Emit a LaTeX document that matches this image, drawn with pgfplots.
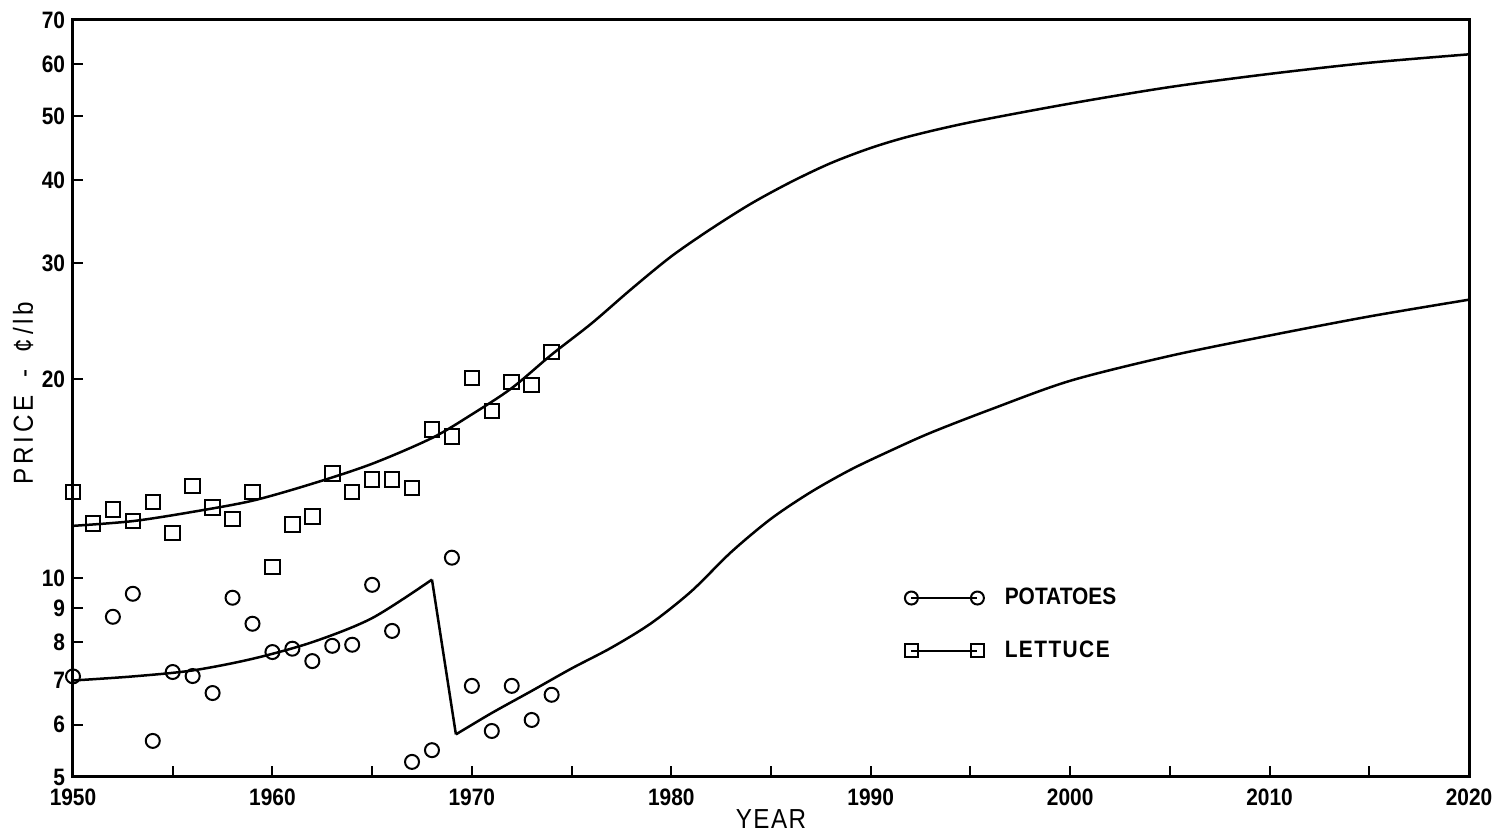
\documentclass[border=0pt]{standalone}
\usepackage{fontspec}
\setmainfont{Liberation Sans}[FakeStretch=0.88]
\usepackage{pgfplots}
\pgfplotsset{compat=1.18}
\begin{document}
\begin{tikzpicture}
\begin{axis}[
  name=ax,
  scale only axis, width=558.4pt, height=302.8pt,
  xmin=1950, xmax=2020, ymin=5, ymax=70, ymode=log,
  axis line style={line width=1.2pt},
  xtick={1950,1955,...,2020},
  xticklabels={1950,,1960,,1970,,1980,,1990,,2000,,2010,,2020},
  ytick={5,6,7,8,9,10,20,30,40,50,60,70},
  yticklabels={5,6,7,8,9,10,20,30,40,50,60,70},
  yminorticks=false, xminorticks=false,
  tick align=inside, xtick pos=left, ytick pos=left,
  major tick length=4.2pt,
  tick style={line width=0.8pt, black},
  tick label style={font=\fontsize{9.5}{10}\selectfont\bfseries},
  yticklabel style={inner sep=1pt, xshift=-2pt},
  xticklabel style={inner sep=1pt, yshift=-3.5pt},
  xlabel={\addfontfeatures{LetterSpace=5}YEAR},
  xlabel style={at={(axis description cs:0.5,-0.0555)}, anchor=center, font=\fontsize{11}{12}\selectfont},
  ylabel={\addfontfeatures{LetterSpace=14}PRICE\hspace{7pt}-\hspace{7pt}¢/lb},
  ylabel style={at={(axis description cs:-0.0358,0.507)}, anchor=center, font=\fontsize{11}{12}\selectfont},
  legend style={draw=none, fill=none, at={(0.5902,0.2015)}, anchor=west, row sep=9pt, font=\fontsize{9.5}{10}\selectfont\bfseries},
  legend cell align=left,
  legend image code/.code={\draw[#1] plot coordinates {(0pt,0pt) (26.4pt,0pt)}; \path (35pt,0pt);},
]
% lettuce observations
\addplot[only marks, mark=square, mark size=2.9pt, mark options={line width=0.8pt, black}, forget plot] coordinates {
(1950,13.5) (1951,12.1) (1952,12.7) (1953,12.2) (1954,13.05) (1955,11.7) (1956,13.8) (1957,12.8) (1958,12.3) (1959,13.5)
(1960,10.4) (1961,12.05) (1962,12.4) (1963,14.4) (1964,13.5) (1965,14.1) (1966,14.1) (1967,13.7) (1968,16.8) (1969,16.4)
(1970,20.1) (1971,17.9) (1972,19.8) (1973,19.6) (1974,22.0)};
% potato observations
\addplot[only marks, mark=o, mark size=2.8pt, mark options={line width=0.8pt, black}, forget plot] coordinates {
(1950,7.1) (1952,8.74) (1953,9.47) (1954,5.67) (1955,7.21) (1956,7.11) (1957,6.7) (1958,9.34) (1959,8.53)
(1960,7.73) (1961,7.82) (1962,7.49) (1963,7.9) (1964,7.93) (1965,9.77) (1966,8.32) (1967,5.27) (1968,5.49) (1969,10.74)
(1970,6.87) (1971,5.87) (1972,6.87) (1973,6.1) (1974,6.66)};
% lettuce curve
\addplot[black, line width=1pt, smooth, forget plot] coordinates {
(1950,12.0) (1953,12.2) (1956,12.6) (1959,13.1) (1962,13.9) (1965,14.9) (1968,16.3) (1970,17.7) (1972,19.4)
(1974,21.8) (1976,24.3) (1978,27.4) (1980,30.7) (1982,33.8) (1984,36.9) (1986,39.8) (1988,42.5) (1990,44.8)
(1992,46.7) (1995,49.0) (2000,52.3) (2005,55.4) (2010,58.0) (2015,60.3) (2020,62.1)};
% potato curve
\addplot[black, line width=1pt, smooth, forget plot] coordinates {
(1950,7.0) (1953,7.1) (1956,7.25) (1959,7.55) (1962,8.0) (1965,8.7) (1968,9.95)};
\addplot[black, line width=1pt, forget plot] coordinates {(1968,9.95) (1969.2,5.8)};
\addplot[black, line width=1pt, smooth, forget plot] coordinates {
(1969.2,5.8) (1971,6.25) (1973,6.75) (1975,7.3) (1977,7.85) (1979,8.55) (1981,9.55) (1983,10.95) (1985,12.3)
(1987,13.5) (1989,14.6) (1991,15.6) (1993,16.6) (1996,18.0) (2000,19.9) (2005,21.7) (2010,23.3) (2015,24.9) (2020,26.4)};
\addlegendimage{black, line width=0.7pt, mark=o, mark size=2.6pt, mark options={line width=0.8pt}}
\addlegendentry{POTATOES}
\addlegendimage{black, line width=0.7pt, mark=square, mark size=2.6pt, mark options={line width=0.8pt}}
\addlegendentry{\addfontfeatures{LetterSpace=6}LETTUCE}
\end{axis}
\pgfresetboundingbox
\path[use as bounding box] ([xshift=-29.2pt,yshift=-22.4pt]ax.south west) rectangle ([xshift=16pt,yshift=8pt]ax.north east);
\end{tikzpicture}
\end{document}
